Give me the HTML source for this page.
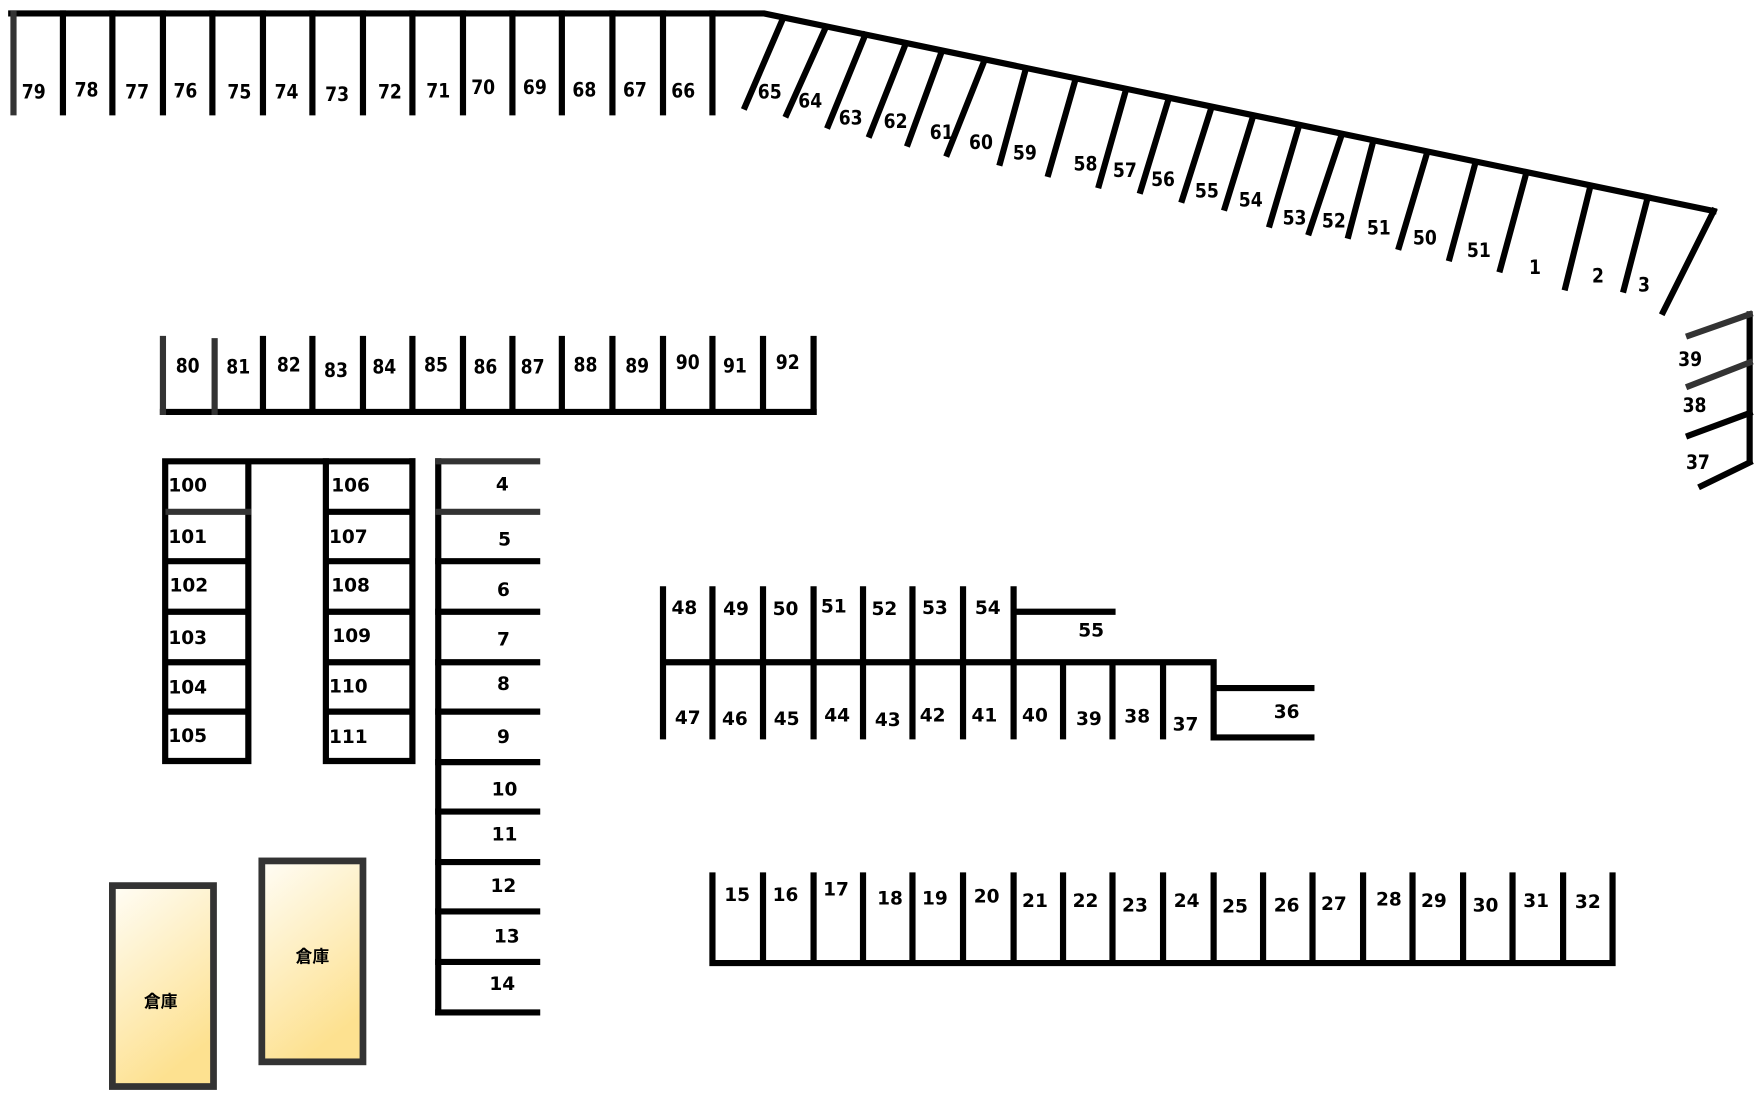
<!DOCTYPE html>
<html><head><meta charset="utf-8"><style>
html,body{margin:0;padding:0;background:#fff;}
svg{display:block;}
text{font-family:"DejaVu Sans","Liberation Sans","Noto Sans CJK JP",sans-serif;font-weight:bold;font-size:16.5px;text-anchor:middle;dominant-baseline:middle;fill:#000;}
.n{font-family:"DejaVu Sans Condensed","DejaVu Sans","Liberation Sans",sans-serif;font-weight:bold;font-size:17px;}
</style></head><body>
<svg width="1762" height="1100" viewBox="0 0 1568 980" preserveAspectRatio="none" xmlns="http://www.w3.org/2000/svg">
<defs><linearGradient id="g" x1="0" y1="0" x2="0.4" y2="1"><stop offset="0" stop-color="#fffdf6"/><stop offset="1" stop-color="#fde190"/></linearGradient></defs>
<g stroke="#000" stroke-width="5.5" fill="none" stroke-linecap="square">
<path d="M10 12H680L1525 188"/>
<path d="M12 12V100" stroke="#333"/>
<path d="M56 12V100M100 12V100M145 12V100M189 12V100M234 12V100M278 12V100M323 12V100M367 12V100M412 12V100M456 12V100M500 12V100M545 12V100M590 12V100M634 12V100"/>
<path d="M697 16L663 95M735 24L700 102M770 31L737 112M806 39L774 120M838 46L808 128M876 54L843 137M913 61L890 145M957 71L933 155M1002 80L978 165M1040 88L1015 170M1078 96L1052 178M1115 104L1090 185M1156 112L1130 200M1194 120L1165 207M1222 126L1200 210M1270 136L1245 220M1313 145L1290 230M1358 155L1335 240M1415 167L1393 256M1466 177L1445 258M1525 188L1480 278"/>
<path d="M1557 280V410"/>
<path d="M1557 280L1503 299M1557 323L1503 344" stroke="#333"/>
<path d="M1557 368L1503 388M1557 412L1514 433"/>
<path d="M145 367H724"/>
<path d="M145 302V367M191 304V367" stroke="#333"/>
<path d="M234 302V367M278 302V367M323 302V367M367 302V367M412 302V367M456 302V367M500 302V367M545 302V367M590 302V367M634 302V367M679 302V367M724 302V367"/>
<path d="M147 411H367M147 411V678H221V411M147 500H221M147 545H221M147 590H221M147 634H221"/>
<path d="M150 456H221" stroke="#333"/>
<path d="M290 411V678H367V411M290 456H367M290 500H367M290 545H367M290 590H367M290 634H367"/>
<path d="M390 411V902"/>
<path d="M390 411H478M390 456H478" stroke="#333"/>
<path d="M390 500H478M390 545H478M390 590H478M390 634H478M390 679H478M390 723H478M390 768H478M390 812H478M390 857H478M390 902H478"/>
<path d="M590 590H1080M902 545H990M590 525V656M634 525V656M679 525V656M724 525V656M768 525V656M812 525V656M857 525V656M902 525V656M946 590V656M990 590V656M1035 590V656M1080 590V657M1080 613H1167M1080 657H1167"/>
<path d="M634 858H1435M634 780V858M679 780V858M724 780V858M768 780V858M812 780V858M857 780V858M902 780V858M946 780V858M990 780V858M1035 780V858M1080 780V858M1124 780V858M1168 780V858M1213 780V858M1257 780V858M1302 780V858M1346 780V858M1391 780V858M1435 780V858"/>
</g>
<rect x="100" y="789" width="90" height="179" fill="url(#g)" stroke="#333" stroke-width="6"/>
<rect x="233" y="767" width="90" height="179" fill="url(#g)" stroke="#333" stroke-width="6"/>
<text x="143" y="893" style="font-size:15px">倉庫</text>
<text x="278" y="853" style="font-size:15px">倉庫</text>
<g>
<text class="n" x="30" y="83">79</text><text class="n" x="77" y="81">78</text><text class="n" x="122" y="83">77</text><text class="n" x="165" y="82">76</text><text class="n" x="213" y="83">75</text><text class="n" x="255" y="83">74</text><text class="n" x="300" y="85">73</text><text class="n" x="347" y="83">72</text><text class="n" x="390" y="82">71</text><text class="n" x="430" y="79">70</text><text class="n" x="476" y="79">69</text><text class="n" x="520" y="81">68</text><text class="n" x="565" y="81">67</text><text class="n" x="608" y="82">66</text>
<text class="n" x="685" y="83">65</text><text class="n" x="721" y="91">64</text><text class="n" x="757" y="106">63</text><text class="n" x="797" y="109">62</text><text class="n" x="838" y="119">61</text><text class="n" x="873" y="128">60</text><text class="n" x="912" y="137">59</text><text class="n" x="966" y="147">58</text><text class="n" x="1001" y="153">57</text><text class="n" x="1035" y="161">56</text><text class="n" x="1074" y="171">55</text><text class="n" x="1113" y="179">54</text><text class="n" x="1152" y="195">53</text><text class="n" x="1187" y="198">52</text><text class="n" x="1227" y="204">51</text><text class="n" x="1268" y="213">50</text><text class="n" x="1316" y="224">51</text><text class="n" x="1366" y="239">1</text><text class="n" x="1422" y="247">2</text><text class="n" x="1463" y="255">3</text>
<text class="n" x="1504" y="321">39</text><text class="n" x="1508" y="362">38</text><text class="n" x="1511" y="413">37</text>
<text class="n" x="167" y="327">80</text><text class="n" x="212" y="328">81</text><text class="n" x="257" y="326">82</text><text class="n" x="299" y="331">83</text><text class="n" x="342" y="328">84</text><text class="n" x="388" y="326">85</text><text class="n" x="432" y="328">86</text><text class="n" x="474" y="328">87</text><text class="n" x="521" y="326">88</text><text class="n" x="567" y="327">89</text><text class="n" x="612" y="324">90</text><text class="n" x="654" y="327">91</text><text class="n" x="701" y="324">92</text>
</g>
<text x="167" y="433">100</text><text x="167" y="479">101</text><text x="168" y="522">102</text><text x="167" y="569">103</text><text x="167" y="613">104</text><text x="167" y="656">105</text>
<text x="312" y="433">106</text><text x="310" y="479">107</text><text x="312" y="522">108</text><text x="313" y="567">109</text><text x="310" y="612">110</text><text x="310" y="657">111</text>
<text x="447" y="432">4</text><text x="449" y="481">5</text><text x="448" y="526">6</text><text x="448" y="570">7</text><text x="448" y="610">8</text><text x="448" y="657">9</text><text x="449" y="704">10</text><text x="449" y="744">11</text><text x="448" y="790">12</text><text x="451" y="835">13</text><text x="447" y="877">14</text>
<text x="609" y="542">48</text><text x="655" y="543">49</text><text x="699" y="543">50</text><text x="742" y="541">51</text><text x="787" y="543">52</text><text x="832" y="542">53</text><text x="879" y="542">54</text><text x="971" y="562">55</text>
<text x="612" y="640">47</text><text x="654" y="641">46</text><text x="700" y="641">45</text><text x="745" y="638">44</text><text x="790" y="642">43</text><text x="830" y="638">42</text><text x="876" y="638">41</text><text x="921" y="638">40</text><text x="969" y="641">39</text><text x="1012" y="639">38</text><text x="1055" y="646">37</text><text x="1145" y="635">36</text>
<text x="656" y="798">15</text><text x="699" y="798">16</text><text x="744" y="793">17</text><text x="792" y="801">18</text><text x="832" y="801">19</text><text x="878" y="799">20</text><text x="921" y="803">21</text><text x="966" y="803">22</text><text x="1010" y="807">23</text><text x="1056" y="803">24</text><text x="1099" y="808">25</text><text x="1145" y="807">26</text><text x="1187" y="806">27</text><text x="1236" y="802">28</text><text x="1276" y="803">29</text><text x="1322" y="807">30</text><text x="1367" y="803">31</text><text x="1413" y="804">32</text>
</svg>
</body></html>
